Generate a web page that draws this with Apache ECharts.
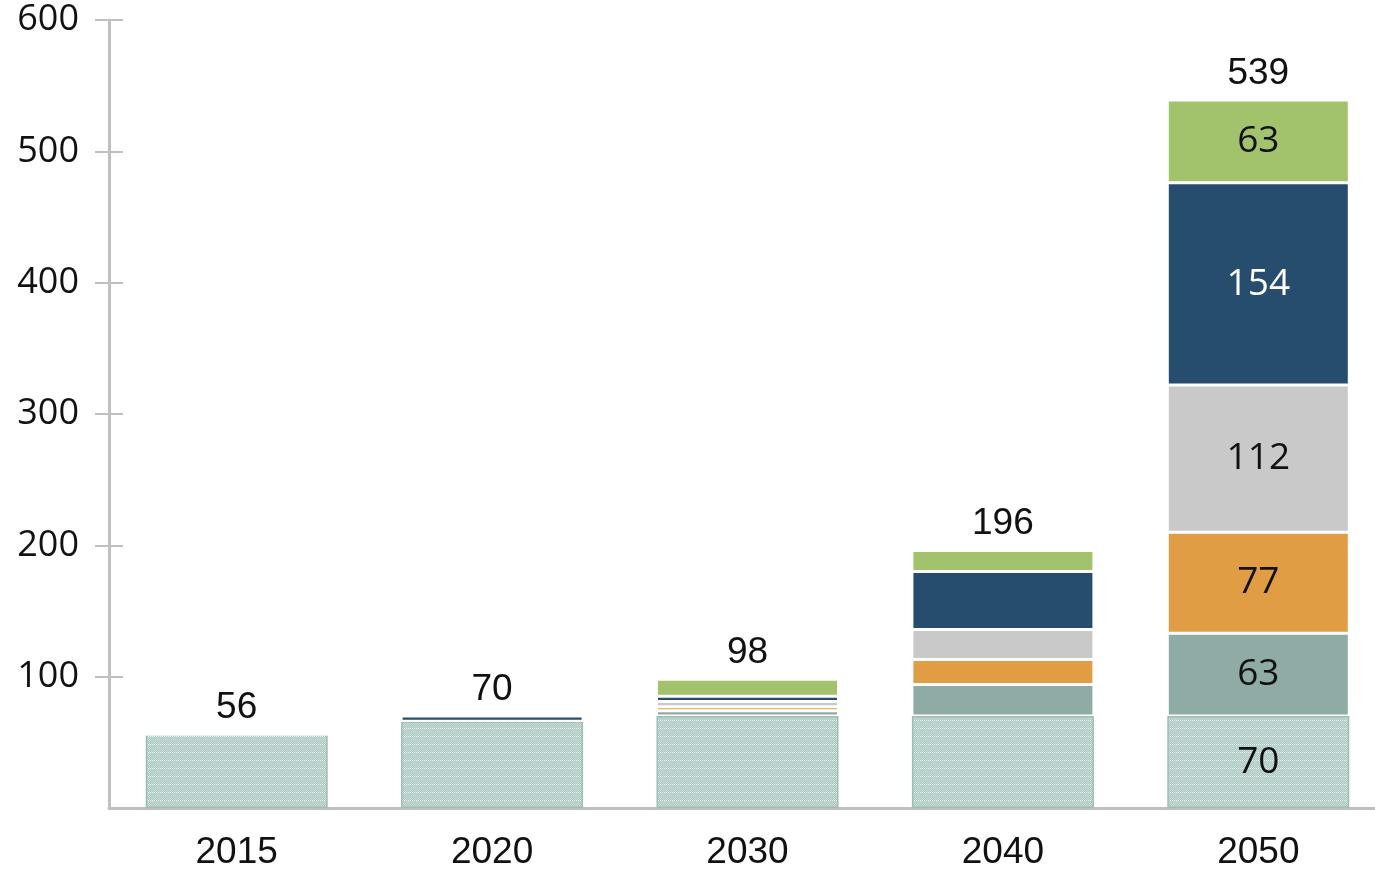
<!DOCTYPE html>
<html>
<head>
<meta charset="utf-8">
<title>Stacked capacity by year</title>
<script src="https://cdn.jsdelivr.net/npm/echarts@6/dist/echarts.min.js"></script>
<style>
  html, body { margin: 0; padding: 0; background: #ffffff; }
  #chart { width: 1375px; height: 875px; }
</style>
</head>
<body>
<div id="chart"></div>
<script>
// Years on the category axis
const years = ['2015', '2020', '2030', '2040', '2050'];

// Stack segments, bottom to top
const baseValues   = [56, 66, 70, 70, 70];
const tealValues   = [0, 0, 4, 24, 63];
const orangeValues = [0, 0, 3, 19, 77];
const grayValues   = [0, 0, 4, 23, 112];
const navyValues   = [0, 4, 4, 44, 154];
const greenValues  = [0, 0, 13, 16, 63];

// Value axis ticks (zero is left unlabelled)
const yTicks = [100, 200, 300, 400, 500, 600];
const yMin = 0;
const yMax = 600;

// Stack totals shown above each column
const totals = years.map((_, i) =>
  baseValues[i] + tealValues[i] + orangeValues[i] + grayValues[i] + navyValues[i] + greenValues[i]);

// Only the last column carries labels inside its segments
const labelledIndex = years.length - 1;

// Fine dotted texture for the base segment
function makeTexture() {
  const c = document.createElement('canvas');
  c.width = 8; c.height = 8;
  const g = c.getContext('2d');
  g.fillStyle = '#adcac3';
  g.fillRect(0, 0, 8, 8);
  for (let y = 0; y < 8; y++) {
    for (let x = 0; x < 8; x++) {
      if ((x + y) % 2 === 0) {
        g.fillStyle = 'rgba(255,255,255,0.32)';
        g.fillRect(x, y, 1, 1);
      }
    }
  }
  g.fillStyle = 'rgba(255,255,255,0.7)';
  for (let x = 0; x < 8; x += 2) g.fillRect(x, 0, 1, 1);
  return c;
}

const inner = (color) => ({
  show: true,
  position: 'inside',
  fontFamily: 'Open Sans',
  fontSize: 37,
  color: color
});

function segmentData(values, labelColor) {
  return values.map((v, i) => i === labelledIndex
    ? { value: v, label: inner(labelColor) }
    : { value: v });
}

function segment(name, values, color, labelColor) {
  return {
    name: name,
    type: 'bar',
    stack: 'total',
    barWidth: 182,
    data: segmentData(values, labelColor),
    itemStyle: { color: color, borderColor: '#ffffff', borderWidth: 1.5 },
    label: { show: false },
    emphasis: { disabled: true }
  };
}

const chart = echarts.init(document.getElementById('chart'), null, { renderer: 'canvas' });

chart.setOption({
  animation: false,
  backgroundColor: '#ffffff',
  grid: {
    left: 109, right: -11, top: 20, bottom: 67,
    containLabel: false,
    outerBoundsMode: 'none'
  },
  xAxis: {
    type: 'category',
    data: years,
    axisLine: { show: true, lineStyle: { color: '#c0c0c0', width: 3 } },
    axisTick: { show: false },
    axisLabel: {
      margin: 26,
      fontFamily: 'Liberation Sans',
      fontSize: 37,
      color: '#111111'
    }
  },
  yAxis: [
    {
      type: 'value',
      min: yMin,
      max: yMax,
      interval: 100,
      axisLine: { show: true, lineStyle: { color: '#c0c0c0', width: 3 } },
      axisTick: { show: true, length: 14, customValues: yTicks, lineStyle: { color: '#c0c0c0', width: 2 } },
      splitLine: { show: false },
      axisLabel: {
        margin: 30,
        fontFamily: 'Open Sans',
        fontSize: 36,
        color: '#111111',
        customValues: yTicks
      }
    },
    {
      type: 'value',
      position: 'left',
      min: yMin,
      max: yMax,
      interval: 100,
      axisLine: { show: false },
      axisTick: { show: true, inside: true, length: 14, customValues: yTicks, lineStyle: { color: '#c0c0c0', width: 2 } },
      splitLine: { show: false },
      axisLabel: { show: false }
    }
  ],
  series: [
    {
      name: 'base',
      type: 'bar',
      stack: 'total',
      barWidth: 182,
      data: segmentData(baseValues, '#111111'),
      itemStyle: {
        color: { image: makeTexture(), repeat: 'repeat' },
        borderColor: '#9dbdb5',
        borderWidth: 1.5
      },
      label: { show: false },
      emphasis: { disabled: true }
    },
    segment('teal', tealValues, '#8eaca5', '#111111'),
    segment('orange', orangeValues, '#e09d43', '#111111'),
    segment('gray', grayValues, '#c9c9c9', '#111111'),
    segment('navy', navyValues, '#264d6d', '#ffffff'),
    segment('green', greenValues, '#a2c26b', '#111111'),
    {
      name: 'totalLabel',
      type: 'bar',
      stack: 'total',
      barWidth: 182,
      data: years.map(() => 0),
      itemStyle: { color: 'transparent' },
      label: {
        show: true,
        position: 'top',
        distance: 8,
        fontFamily: 'Liberation Sans',
        fontSize: 37,
        color: '#111111',
        formatter: (p) => String(totals[p.dataIndex])
      },
      emphasis: { disabled: true }
    }
  ]
});
</script>
</body>
</html>
